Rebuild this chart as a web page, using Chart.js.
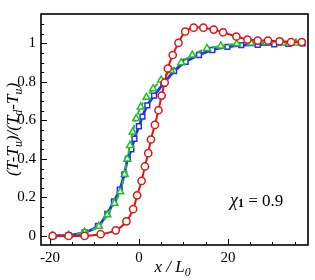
<!DOCTYPE html>
<html>
<head>
<meta charset="utf-8">
<script src="https://cdn.jsdelivr.net/npm/chart.js@4"></script>
<style>
    html, body { margin: 0; padding: 0; background: #fff; }
    #wrap { width: 315px; height: 280px; }
</style>
</head>
<body>
<div id="wrap"><canvas id="chart" width="315" height="280"></canvas></div>
<script>
// Profiles
const redX = [-19.4, -15.8, -12.2, -8.6, -5.2, -2.8, -1.3, -0.4, 0.6, 1.35, 2.1, 2.7, 3.6, 4.4, 5.1, 5.8, 6.5, 7.6, 8.9, 10.4, 12.3, 14.5, 16.8, 18.9, 21.9, 24.4, 26.7, 29.0, 31.6, 34.2, 36.6];
const redY = [0, 0, 0, 0.009, 0.029, 0.076, 0.139, 0.211, 0.286, 0.361, 0.43, 0.501, 0.577, 0.653, 0.729, 0.797, 0.87, 0.94, 1.003, 1.062, 1.082, 1.082, 1.072, 1.058, 1.036, 1.02, 1.015, 1.015, 1.011, 1.007, 1.007];

const blueX = [-19.4, -15.8, -12.2, -9.2, -7.1, -5.6, -4.3, -3.3, -2.5, -1.7, -1.0, 0.0, 0.8, 1.9, 3.4, 5.5, 7.9, 10.5, 13.5, 16.5, 19.9, 23.0, 26.7, 30.4, 33.6, 36.8];
const blueY = [0, 0.004, 0.018, 0.052, 0.115, 0.18, 0.24, 0.32, 0.4, 0.45, 0.505, 0.57, 0.62, 0.678, 0.729, 0.79, 0.856, 0.905, 0.94, 0.966, 0.982, 0.991, 0.993, 0.996, 0.998, 1.0];

const greenX = [-19.4, -15.8, -12.2, -9.0, -7.1, -5.5, -4.2, -3.2, -2.6, -2.0, -1.4, -0.6, 0.4, 1.7, 3.2, 5.0, 7.2, 9.5, 12.0, 15.3, 18.4, 22.0, 25.2, 28.6, 32.3, 35.3];
const greenY = [0, 0.003, 0.02, 0.05, 0.11, 0.17, 0.23, 0.32, 0.40, 0.47, 0.54, 0.61, 0.67, 0.72, 0.765, 0.81, 0.86, 0.9, 0.94, 0.974, 0.987, 0.998, 1.003, 1.004, 1.003, 1.002];

const xTickValues = [-20, 0, 20];
const yTickValues = [0, 0.2, 0.4, 0.6, 0.8, 1];

const serif = "'Liberation Serif', 'DejaVu Serif', serif";

function toPoints(xs, ys) {
    return xs.map((x, i) => ({ x: x, y: ys[i] }));
}

// Draw text made of pieces, some of them subscripts
function drawRich(ctx, parts, size, x, y) {
    let total = 0;
    parts.forEach(p => {
        ctx.font = 'italic ' + (p.sub ? size * 0.7 : size) + 'px ' + serif;
        p.w = ctx.measureText(p.t).width;
        total += p.w;
    });
    let cx = x - total / 2;
    parts.forEach(p => {
        ctx.font = 'italic ' + (p.sub ? size * 0.7 : size) + 'px ' + serif;
        ctx.fillText(p.t, cx, y + (p.sub ? size * 0.25 : 0));
        cx += p.w;
    });
}

// Frame, inward ticks, axis titles and the note
const framePlugin = {
    id: 'frame',
    afterDraw(chart) {
        const ctx = chart.ctx;
        const a = chart.chartArea;
        const xs = chart.scales.x;
        const ys = chart.scales.y;
        ctx.save();
        ctx.strokeStyle = '#000';
        ctx.lineWidth = 1;
        for (let v = -20; v <= 35; v += 5) {
            const px = Math.round(xs.getPixelForValue(v)) + 0.5;
            const len = v % 20 === 0 ? 6 : 3;
            ctx.beginPath();
            ctx.moveTo(px, a.bottom);
            ctx.lineTo(px, a.bottom - len);
            ctx.stroke();
        }
        for (let i = 0; i <= 22; i++) {
            const v = i * 0.05;
            const py = Math.round(ys.getPixelForValue(v)) + 0.5;
            const len = i % 4 === 0 ? 6 : 3;
            ctx.beginPath();
            ctx.moveTo(a.left, py);
            ctx.lineTo(a.left + len, py);
            ctx.stroke();
        }
        ctx.lineWidth = 1.6;
        ctx.strokeRect(a.left, a.top, a.right - a.left, a.bottom - a.top);

        ctx.fillStyle = '#000';
        ctx.textBaseline = 'alphabetic';
        ctx.textAlign = 'left';
        drawRich(ctx, [{ t: 'x / L' }, { t: '0', sub: true }], 17, (a.left + a.right) / 2 - 2, 272);

        ctx.translate(18, (a.top + a.bottom) / 2);
        ctx.rotate(-Math.PI / 2);
        drawRich(ctx, [
            { t: '(T-T' }, { t: 'u', sub: true }, { t: ')/(T' }, { t: 'd', sub: true },
            { t: '-T' }, { t: 'u', sub: true }, { t: ')' }
        ], 17, 0, 0);
        ctx.restore();

        // note: chi_1 = 0.9
        ctx.save();
        ctx.fillStyle = '#000';
        ctx.font = 'italic 18px ' + serif;
        ctx.fillText('\u03C7', 230, 206);
        let w = ctx.measureText('\u03C7').width;
        ctx.font = 'bold 12px ' + serif;
        ctx.fillText('1', 230 + w, 207);
        w += ctx.measureText('1').width;
        ctx.font = '17px ' + serif;
        ctx.fillText(' = 0.9', 230 + w, 206);
        ctx.restore();
    }
};

const ctx = document.getElementById('chart').getContext('2d');
new Chart(ctx, {
    type: 'line',
    data: {
        datasets: [
            {
                label: 'red',
                data: toPoints(redX, redY),
                borderColor: '#e01414',
                borderWidth: 2,
                pointStyle: 'circle',
                pointRadius: 3.6,
                pointBorderWidth: 1.5,
                pointBackgroundColor: '#fff',
                pointBorderColor: '#e01414',
                tension: 0.3,
                order: 1
            },
            {
                label: 'green',
                data: toPoints(greenX, greenY),
                borderColor: '#1ec31e',
                borderWidth: 2,
                borderDash: [5, 3],
                pointStyle: 'triangle',
                pointRadius: 4,
                pointBorderWidth: 1.5,
                pointBackgroundColor: '#fff',
                pointBorderColor: '#1ec31e',
                tension: 0.3,
                order: 2
            },
            {
                label: 'blue',
                data: toPoints(blueX, blueY),
                borderColor: '#2b2bff',
                borderWidth: 2.8,
                pointStyle: 'rect',
                pointRadius: 3.4,
                pointBorderWidth: 1.5,
                pointBackgroundColor: '#fff',
                pointBorderColor: '#2b2bff',
                tension: 0.3,
                order: 3
            }
        ]
    },
    options: {
        responsive: false,
        animation: false,
        layout: { padding: { top: 8, right: 7, left: 0, bottom: 0 } },
        plugins: {
            legend: { display: false },
            tooltip: { enabled: false }
        },
        scales: {
            x: {
                type: 'linear',
                min: -22,
                max: 38,
                afterBuildTicks: function(scale) {
                    scale.ticks = xTickValues.map(v => ({ value: v }));
                },
                afterFit: function(scale) { scale.height = 35; },
                grid: { display: false, drawTicks: false },
                border: { display: false },
                ticks: {
                    padding: 4,
                    color: '#000',
                    font: { family: serif, size: 15 },
                    maxRotation: 0,
                    callback: v => String(v)
                }
            },
            y: {
                type: 'linear',
                min: -0.047,
                max: 1.153,
                afterBuildTicks: function(scale) {
                    scale.ticks = yTickValues.map(v => ({ value: v }));
                },
                afterFit: function(scale) { scale.width = 41; },
                grid: { display: false, drawTicks: false },
                border: { display: false },
                ticks: {
                    padding: 5,
                    color: '#000',
                    font: { family: serif, size: 15 },
                    callback: v => String(v)
                }
            }
        }
    },
    plugins: [framePlugin]
});
</script>
</body>
</html>
